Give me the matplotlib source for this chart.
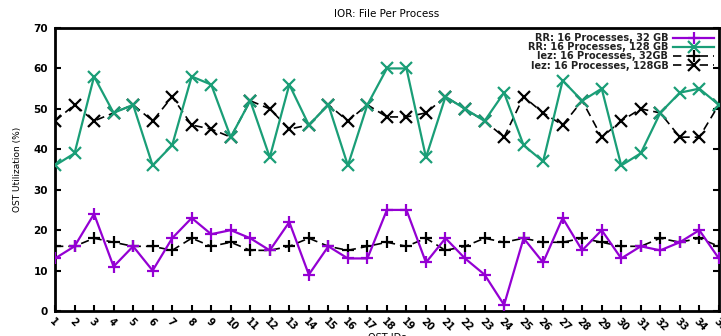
import matplotlib
matplotlib.use("Agg")
import matplotlib.pyplot as plt

ost_ids = list(range(1, 36))

rr_32gb = [13, 16, 24, 11, 16, 10, 18, 23, 19, 20, 18, 15, 22, 9, 16, 13, 13,
           25, 25, 12, 18, 13, 9, 1.5, 18, 12, 23, 15, 20, 13, 16, 15, 17, 20, 13]
rr_128gb = [36, 39, 58, 49, 51, 36, 41, 58, 56, 43, 52, 38, 56, 46, 51, 36, 51,
            60, 60, 38, 53, 50, 47, 54, 41, 37, 57, 52, 55, 36, 39, 49, 54, 55, 51]
lez_32gb = [16, 16, 18, 17, 16, 16, 15, 18, 16, 17, 15, 15, 16, 18, 16, 15, 16,
            17, 16, 18, 15, 16, 18, 17, 18, 17, 17, 18, 17, 16, 16, 18, 17, 18, 16]
lez_128gb = [47, 51, 47, 49, 51, 47, 53, 46, 45, 43, 52, 50, 45, 46, 51, 47, 51,
             48, 48, 49, 53, 50, 47, 43, 53, 49, 46, 52, 43, 47, 50, 49, 43, 43, 51]

labels = ["RR: 16 Processes, 32 GB", "RR: 16 Processes, 128 GB",
          "lez: 16 Processes, 32GB", "lez: 16 Processes, 128GB"]
title = "IOR: File Per Process"

purple = "#9400d3"
green = "#1a9e77"

plt.rcParams["font.family"] = ["DejaVu Sans"]

fig = plt.figure(figsize=(7.21, 3.36), dpi=100)
ax = fig.add_axes([0.0763, 0.0744, 0.9207, 0.8423])

ms_plus = 9
ms_x = 8.5
mew = 1.6
dash = (0, (5, 3))
ax.plot(ost_ids, rr_32gb, color=purple, lw=1.6, marker="+", ms=ms_plus,
        mew=mew, label=labels[0], zorder=3)
ax.plot(ost_ids, rr_128gb, color=green, lw=1.6, marker="x", ms=ms_x, mew=mew,
        label=labels[1], zorder=3)
ax.plot(ost_ids, lez_32gb, color="black", lw=1.2, ls=dash, marker="+",
        ms=ms_plus, mew=mew, label=labels[2], zorder=2)
ax.plot(ost_ids, lez_128gb, color="black", lw=1.2, ls=dash, marker="x",
        ms=ms_x, mew=mew, label=labels[3], zorder=2)

ax.set_xlim(1, 35)
ax.set_ylim(0, 70)
ax.set_xticks(ost_ids)
ax.set_xticklabels([str(i) for i in ost_ids], rotation=-45, ha="left",
                   va="top", rotation_mode="anchor", fontsize=7,
                   fontweight="bold")
ax.set_yticks(range(0, 71, 10))
ax.tick_params(axis="y", labelsize=7.5, direction="in", length=4, width=1.5,
               right=True, pad=5)
ax.tick_params(axis="x", direction="in", length=4, width=1.5, top=False, pad=4)
for lab in ax.get_yticklabels():
    lab.set_fontweight("bold")
for sp in ax.spines.values():
    sp.set_linewidth(2)

ax.set_title(title, fontsize=7.5, pad=8)
ax.set_ylabel("OST Utilization (%)", fontsize=6.5, labelpad=8)
ax.set_xlabel("OST IDs", fontsize=7, labelpad=0)

leg = ax.legend(loc="upper right", markerfirst=False, frameon=False,
                prop={"size": 7, "weight": "bold"},
                handlelength=4.2, handleheight=0.6, labelspacing=-0.08,
                borderaxespad=0.3, handletextpad=0.5, borderpad=0.2)
for t in leg.get_texts():
    t.set_color("#222222")

fig.savefig("out.png", dpi=100)
